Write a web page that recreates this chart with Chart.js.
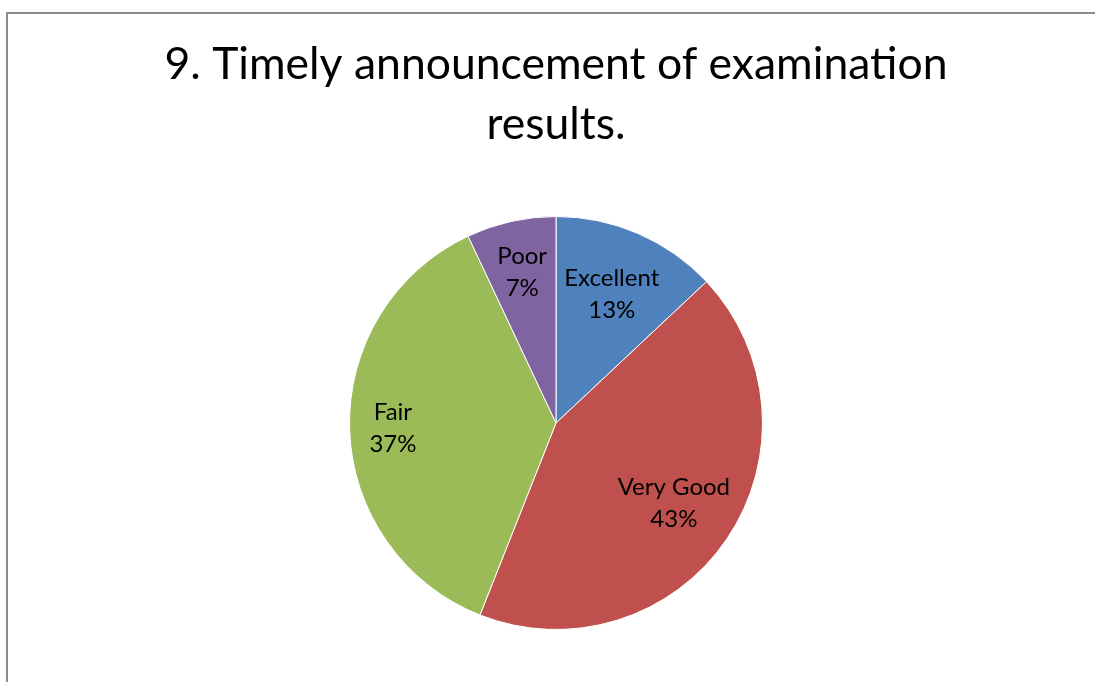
<!DOCTYPE html>
<html>
<head>
<meta charset="utf-8">
<script src="https://cdn.jsdelivr.net/npm/chart.js@4.4.0/dist/chart.umd.min.js"></script>
<style>
  html, body { margin: 0; padding: 0; background: #fff; }
  body { width: 1095px; height: 682px; overflow: hidden; position: relative; }
  #frame {
    position: absolute; left: 6px; top: 12px; width: 1089px; height: 670px;
    border-left: 2px solid #8c8c8c; border-top: 2px solid #8c8c8c;
    box-sizing: border-box;
  }
  #wrap { position: absolute; left: 0; top: 0; width: 1095px; height: 682px; }
</style>
</head>
<body>
<div id="frame"></div>
<div id="wrap"><canvas id="resultsChart"></canvas></div>
<script>
// Timely announcement of examination results
const categories = ['Excellent', 'Very Good', 'Fair', 'Poor'];
const percents = [13, 43, 37, 7];
const sliceColors = ['#4F81BD', '#C0504D', '#9BBB59', '#8064A2'];
const titleLines = ['9. Timely announcement of examination', 'results.'];

const FONT = 'Lato, "Open Sans", sans-serif';
// how far out each label sits, as a share of the radius (Excel's best fit)
const labelRadius = [0.68, 0.69, 0.79, 0.75];

// draws "Category / xx%" inside each slice, like Excel's data labels
const sliceLabels = {
    id: 'sliceLabels',
    afterDatasetsDraw(chart) {
        const ctx = chart.ctx;
        const meta = chart.getDatasetMeta(0);
        ctx.save();
        ctx.fillStyle = '#000';
        ctx.font = '24px ' + FONT;
        ctx.textAlign = 'center';
        ctx.textBaseline = 'middle';
        meta.data.forEach((arc, i) => {
            const p = arc.getProps(['x', 'y', 'startAngle', 'endAngle', 'outerRadius'], true);
            const mid = (p.startAngle + p.endAngle) / 2;
            const r = p.outerRadius * labelRadius[i];
            const x = p.x + Math.cos(mid) * r;
            const y = p.y + Math.sin(mid) * r;
            ctx.fillText(categories[i], x, y - 16);
            ctx.fillText(percents[i] + '%', x, y + 16);
        });
        ctx.restore();
    }
};

const ctx = document.getElementById('resultsChart').getContext('2d');
const resultsChart = new Chart(ctx, {
    type: 'pie',
    data: {
        labels: categories,
        datasets: [{
            data: percents,
            backgroundColor: sliceColors,
            borderColor: '#ffffff',
            borderWidth: 1
        }]
    },
    options: {
        responsive: true,
        maintainAspectRatio: false,
        animation: false,
        layout: { padding: { left: 17, right: 0, top: 0, bottom: 52 } },
        plugins: {
            legend: { display: false },
            tooltip: { enabled: false },
            title: {
                display: true,
                text: titleLines,
                color: '#000',
                font: { family: FONT, size: 44.5, weight: 'normal', lineHeight: 60 / 44.5 },
                padding: { top: 35, bottom: 61 }
            }
        }
    },
    plugins: [sliceLabels]
});
</script>
</body>
</html>
